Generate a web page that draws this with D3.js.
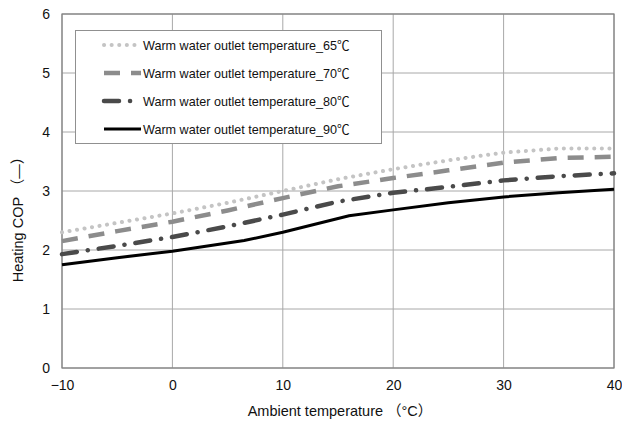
<!DOCTYPE html>
<html>
<head>
<meta charset="utf-8">
<script src="https://cdn.jsdelivr.net/npm/d3@7"></script>
<style>
body { margin: 0; background: #fff; }
text { font-family: "Liberation Sans", Arial, "Noto Sans CJK JP", sans-serif; fill: #111; }
</style>
</head>
<body>
<div class="chart"></div>
<script>
var WIDTH = 622,
	HEIGHT = 424;

// ambient temperature (°C) and heating COP for each outlet temperature
var temps65 = [-10, -5, 0, 5, 10, 15, 20, 25, 30, 35, 40];
var cop65 = [2.3, 2.46, 2.62, 2.8, 3.0, 3.2, 3.37, 3.52, 3.65, 3.72, 3.72];
var temps70 = [-10, -5, 0, 5, 10, 15, 20, 25, 30, 35, 40];
var cop70 = [2.15, 2.32, 2.48, 2.67, 2.88, 3.08, 3.22, 3.35, 3.48, 3.56, 3.58];
var temps80 = [-10, -5, 0, 5, 10, 15, 20, 25, 30, 35, 40];
var cop80 = [1.93, 2.07, 2.22, 2.4, 2.6, 2.82, 2.97, 3.07, 3.18, 3.25, 3.3];
var temps90 = [-10, -5, 0, 6.5, 10, 16, 20, 25, 30, 35, 40];
var cop90 = [1.75, 1.87, 1.98, 2.16, 2.3, 2.58, 2.68, 2.8, 2.9, 2.97, 3.03];

var seriesNames = ["Warm water outlet temperature_65℃", "Warm water outlet temperature_70℃",
	"Warm water outlet temperature_80℃", "Warm water outlet temperature_90℃"];
var xTicks = [-10, 0, 10, 20, 30, 40];
var yTicks = [0, 1, 2, 3, 4, 5, 6];

var styles = [
	{ color: "#c4c4c4", width: 4, dash: "0.1,7.5", cap: "round" },
	{ color: "#8c8c8c", width: 4.5, dash: "16,11", cap: "butt" },
	{ color: "#4a4a4a", width: 4.5, dash: "15,11,0.1,11", cap: "round" },
	{ color: "#000", width: 3, dash: null, cap: "butt" }
];

var series = [
	{ xs: temps65, ys: cop65 },
	{ xs: temps70, ys: cop70 },
	{ xs: temps80, ys: cop80 },
	{ xs: temps90, ys: cop90 }
];

var svg = d3.select(".chart").append("svg")
	.attr("width", WIDTH)
	.attr("height", HEIGHT);

var xScale = d3.scaleLinear().domain([-10, 40]).range([62, 614]);
var yScale = d3.scaleLinear().domain([0, 6]).range([368, 14]);

// grid
svg.append("g").selectAll("line")
	.data(xTicks)
	.enter().append("line")
	.attr("x1", function(d) { return xScale(d); })
	.attr("x2", function(d) { return xScale(d); })
	.attr("y1", yScale(0))
	.attr("y2", yScale(6))
	.attr("stroke", "#a8a8a8")
	.attr("stroke-width", 1);

svg.append("g").selectAll("line")
	.data(yTicks)
	.enter().append("line")
	.attr("x1", xScale(-10))
	.attr("x2", xScale(40))
	.attr("y1", function(d) { return yScale(d); })
	.attr("y2", function(d) { return yScale(d); })
	.attr("stroke", "#a8a8a8")
	.attr("stroke-width", 1);

// frame
svg.append("rect")
	.attr("x", xScale(-10))
	.attr("y", yScale(6))
	.attr("width", xScale(40) - xScale(-10))
	.attr("height", yScale(0) - yScale(6))
	.attr("fill", "none")
	.attr("stroke", "#808080")
	.attr("stroke-width", 1.2);

// axes labels
var xAxis = d3.axisBottom(xScale).tickValues(xTicks).tickSize(0).tickPadding(12)
	.tickFormat(function(d) { return d < 0 ? "\u2212" + Math.abs(d) : d; });
var xg = svg.append("g")
	.attr("transform", "translate(0," + yScale(0) + ")")
	.call(xAxis);
xg.select(".domain").remove();
xg.selectAll("text").style("font-size", "14px").attr("fill", "#111");

var yAxis = d3.axisLeft(yScale).tickValues(yTicks).tickSize(0).tickPadding(12)
	.tickFormat(d3.format("d"));
var yg = svg.append("g")
	.attr("transform", "translate(" + xScale(-10) + ",0)")
	.call(yAxis);
yg.select(".domain").remove();
yg.selectAll("text").style("font-size", "14px").attr("fill", "#111");

svg.append("text")
	.attr("x", 340)
	.attr("y", 416)
	.attr("text-anchor", "middle")
	.style("font-size", "14.5px")
	.text("Ambient temperature （°C）");

svg.append("text")
	.attr("transform", "translate(23,216) rotate(-90)")
	.attr("text-anchor", "middle")
	.style("font-size", "14.5px")
	.text("Heating COP （—）");

// lines
var line = d3.line()
	.x(function(d) { return xScale(d[0]); })
	.y(function(d) { return yScale(d[1]); });

var plot = svg.append("g");
series.forEach(function(s, i) {
	var pts = s.xs.map(function(x, j) { return [x, s.ys[j]]; });
	plot.append("path")
		.attr("d", line(pts))
		.attr("fill", "none")
		.attr("stroke", styles[i].color)
		.attr("stroke-width", styles[i].width)
		.attr("stroke-linecap", styles[i].cap)
		.attr("stroke-dasharray", styles[i].dash);
});

// legend
var legend = svg.append("g");
legend.append("rect")
	.attr("x", 75.5)
	.attr("y", 30.5)
	.attr("width", 306)
	.attr("height", 113)
	.attr("fill", "#fff")
	.attr("stroke", "#909090")
	.attr("stroke-width", 1);

var rowY = [45, 73, 101, 129];
seriesNames.forEach(function(name, i) {
	legend.append("line")
		.attr("x1", 104)
		.attr("x2", 141)
		.attr("y1", rowY[i])
		.attr("y2", rowY[i])
		.attr("stroke", styles[i].color)
		.attr("stroke-width", styles[i].width)
		.attr("stroke-linecap", styles[i].cap)
		.attr("stroke-dasharray", styles[i].dash);
	legend.append("text")
		.attr("x", 143)
		.attr("y", rowY[i] + 4.5)
		.style("font-size", "12.6px")
		.text(name);
});
</script>
</body>
</html>
